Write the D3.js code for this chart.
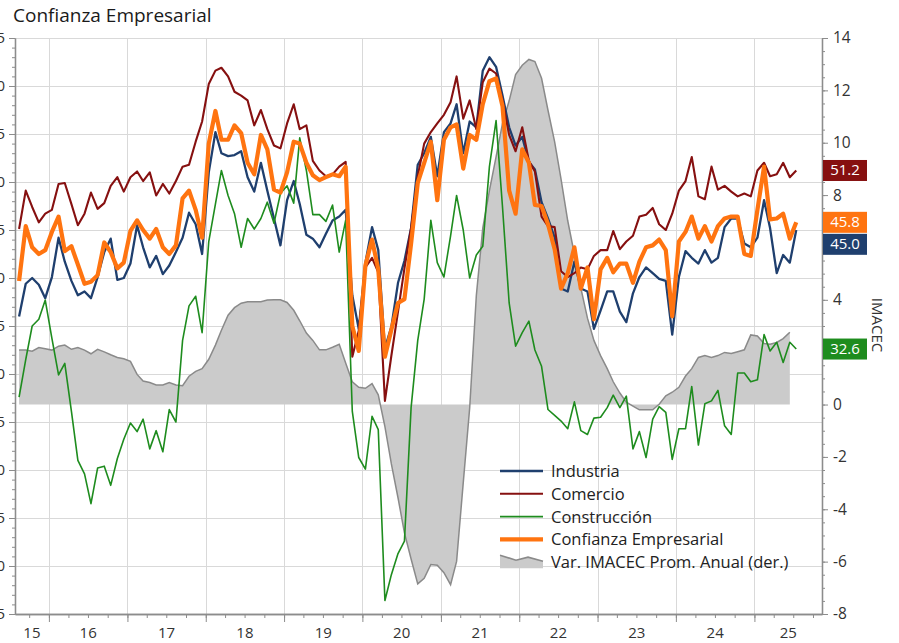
<!DOCTYPE html>
<html>
<head>
<meta charset="utf-8">
<script src="https://cdn.jsdelivr.net/npm/d3@7"></script>
<style>
  body { margin: 0; background: #fff; }
  svg { display: block; font-family: "Open Sans", "Noto Sans", sans-serif; }
</style>
</head>
<body>
<svg id="chart" width="899" height="643"></svg>
<script>
// monthly series, Aug 2015 .. Jul 2025
const industria = [
  36.0, 39.4, 40.0, 39.3, 37.9, 40.1, 44.2, 41.7, 39.7, 38.2, 38.6, 37.9,
  40.1, 42.7, 44.1, 39.8, 40.0, 41.5, 45.5, 43.2, 41.1, 42.3, 40.4, 41.3,
  42.7, 44.2, 46.8, 45.6, 42.5, 51.0, 55.2, 53.0, 52.7, 52.8, 53.2, 50.5,
  49.0, 52.0, 49.1, 46.2, 43.4, 48.1, 50.1, 47.7, 44.5, 44.1, 43.2, 44.6,
  46.0, 46.4, 47.1, 38.2, 34.7, 41.6, 45.3, 42.9, 32.7, 34.9, 39.5, 41.8,
  45.2, 51.8, 53.0, 54.7, 50.6, 55.2, 56.1, 58.1, 53.0, 56.3, 55.7, 61.6,
  63.0, 62.0, 59.0, 55.7, 53.8, 54.7, 52.1, 51.3, 47.9, 46.2, 44.2, 38.9,
  38.6, 41.7, 38.9, 38.6, 34.7, 36.6, 38.6, 38.6, 36.5, 35.4, 38.4, 40.1,
  41.1, 40.5, 39.9, 39.7, 34.1, 40.1, 42.8, 42.1, 41.5, 42.9, 41.6, 42.1,
  45.3, 46.2, 46.2, 43.6, 43.2, 44.2, 48.1, 45.2, 40.5, 42.4, 41.6, 45.0
];
const comercio = [
  45.1, 49.1, 47.4, 45.8, 46.7, 47.1, 49.8, 49.9, 47.7, 45.5, 46.7, 48.9,
  47.2, 47.8, 49.6, 50.5, 49.0, 50.5, 51.1, 50.1, 51.0, 48.6, 49.8, 48.8,
  50.1, 51.6, 51.8, 54.2, 56.3, 60.2, 61.6, 61.9, 61.0, 59.4, 59.0, 58.5,
  55.9, 57.5, 55.5, 53.8, 53.5, 56.1, 58.1, 55.5, 55.9, 52.2, 51.2, 50.6,
  50.8, 51.6, 52.1, 31.8, 34.5, 41.1, 42.1, 40.6, 27.2, 31.9, 36.5, 41.0,
  45.2, 50.6, 54.0, 55.2, 56.1, 57.0, 58.3, 61.0, 56.6, 58.5, 55.5, 60.4,
  61.8, 61.3, 58.5, 54.9, 53.2, 55.7, 52.2, 51.1, 46.4, 45.4, 45.3, 40.7,
  40.1, 40.5, 41.1, 40.9, 42.3, 42.9, 42.9, 44.9, 43.0, 43.8, 44.4, 46.4,
  46.6, 47.3, 45.6, 45.0, 46.7, 49.1, 50.1, 52.6, 48.5, 48.2, 51.6, 49.2,
  49.6, 49.0, 48.5, 48.8, 48.5, 51.2, 52.0, 50.6, 50.8, 52.0, 50.5, 51.2
];
const construccion = [
  27.6, 31.5, 35.0, 35.7, 37.7, 33.7, 29.9, 31.1, 26.1, 21.0, 19.6, 16.5,
  20.2, 20.4, 18.4, 21.2, 23.2, 24.9, 24.0, 25.3, 22.2, 24.1, 21.9, 26.3,
  25.0, 33.5, 37.1, 38.1, 34.3, 43.8, 47.7, 51.2, 48.6, 46.7, 43.2, 46.2,
  45.1, 46.2, 47.9, 45.7, 48.8, 49.6, 47.8, 54.6, 51.2, 46.6, 46.6, 45.9,
  47.6, 42.7, 46.0, 26.1, 21.3, 20.1, 25.6, 24.2, 6.4, 9.1, 11.3, 12.6,
  26.5, 33.5, 37.8, 46.0, 41.6, 40.1, 44.4, 48.6, 45.0, 40.0, 42.4, 43.3,
  51.6, 56.4, 47.4, 37.4, 32.9, 34.3, 35.5, 32.5, 30.8, 26.3, 25.7, 25.1,
  24.3, 27.1, 24.1, 23.7, 25.4, 25.5, 26.5, 27.8, 26.5, 27.7, 22.2, 24.0,
  21.3, 25.3, 26.6, 26.0, 21.1, 24.3, 24.3, 28.7, 22.6, 26.9, 27.2, 28.3,
  24.6, 23.7, 30.1, 30.1, 29.2, 29.4, 34.1, 32.4, 33.3, 31.2, 33.3, 32.6
];
const confianza = [
  39.7, 45.4, 43.2, 42.5, 42.9, 44.8, 46.4, 42.8, 43.3, 41.4, 39.4, 39.6,
  40.3, 43.7, 42.7, 41.0, 41.6, 44.9, 46.0, 45.0, 44.1, 45.1, 43.2, 42.5,
  43.4, 48.3, 49.1, 47.1, 44.2, 54.0, 57.4, 54.4, 54.4, 55.9, 55.1, 52.0,
  50.8, 54.9, 53.4, 49.2, 48.9, 51.0, 54.2, 54.0, 52.0, 50.7, 50.2, 50.5,
  50.8, 50.6, 51.6, 35.0, 32.4, 41.3, 44.0, 40.9, 31.8, 34.6, 37.4, 37.8,
  43.6, 49.9, 52.0, 54.2, 48.1, 54.4, 55.7, 56.0, 51.4, 54.9, 54.4, 58.1,
  60.5, 60.8, 57.9, 49.1, 46.7, 53.4, 52.0, 47.6, 47.5, 45.6, 43.0, 38.9,
  40.5, 43.2, 38.9, 41.1, 35.7, 40.9, 42.1, 40.6, 41.5, 41.5, 39.5, 41.7,
  43.2, 43.4, 44.0, 42.9, 36.0, 43.8, 44.8, 46.4, 44.1, 45.4, 43.8, 45.4,
  46.2, 46.4, 46.4, 42.5, 42.3, 47.1, 51.6, 46.1, 46.2, 46.7, 44.1, 45.8
];
// Var. IMACEC prom. anual, Aug 2015 .. Jun 2025
const imacec = [
  2.08, 2.08, 2.04, 2.18, 2.13, 2.08, 2.23, 2.27, 2.11, 2.18, 2.08, 1.94,
  2.11, 2.01, 1.90, 1.80, 1.75, 1.65, 1.15, 0.90, 0.84, 0.75, 0.75, 0.84,
  0.75, 0.72, 1.08, 1.27, 1.37, 1.73, 2.27, 2.84, 3.41, 3.70, 3.87, 3.93,
  3.93, 3.93, 3.99, 4.00, 4.00, 3.90, 3.60, 3.20, 2.73, 2.45, 2.09, 2.09,
  2.19, 2.30, 1.59, 0.87, 0.66, 0.62, 0.80, 0.37, -0.84, -2.27, -3.56, -4.90,
  -5.90, -6.85, -6.64, -6.11, -6.14, -6.42, -6.88, -5.99, -2.99, -0.13, 4.16, 6.74,
  8.17, 9.46, 10.74, 11.60, 12.60, 12.96, 13.18, 13.10, 12.46, 11.24, 10.03, 8.60,
  7.02, 5.74, 4.45, 3.30, 2.45, 1.87, 1.37, 0.87, 0.44, 0.09, -0.06, -0.20,
  -0.20, -0.20, 0.01, 0.33, 0.47, 0.66, 1.09, 1.37, 1.80, 1.87, 1.80, 1.87,
  1.99, 1.95, 2.02, 2.09, 2.66, 2.62, 2.33, 2.30, 2.37, 2.52, 2.76
];

const yearLabels = ["15", "16", "17", "18", "19", "20", "21", "22", "23", "24", "25"];
const leftTicks = [5, 10, 15, 20, 25, 30, 35, 40, 45, 50, 55, 60, 65];
const rightTicks = [-8, -6, -4, -2, 0, 2, 4, 6, 8, 10, 12, 14];

const navy = "#1f3f6e";
const darkRed = "#861010";
const green = "#1e8c1e";
const orange = "#ff7410";
const areaFill = "#cbcbcb";
const areaLine = "#8a8a8a";
const gridColor = "#d9d9d9";
const axisColor = "#8c8c8c";
const textColor = "#333";

const months = d3.timeMonth
  .range(new Date(2015, 7, 1), new Date(2025, 7, 1))
  .map((d) => d3.timeDay.offset(d, 14));

const svg = d3.select("#chart");
const plotLeft = 15, plotRight = 822, plotTop = 38, plotBottom = 614;

const x = d3.scaleTime()
  .domain([new Date(2015, 6, 27), new Date(2025, 10, 12)])
  .range([plotLeft, plotRight]);
const yL = d3.scaleLinear().domain([5, 65]).range([plotBottom, plotTop]);
const yR = d3.scaleLinear().domain([-8, 14]).range([plotBottom, plotTop]);

svg.append("text")
  .attr("x", 13).attr("y", 22)
  .attr("font-size", "19px")
  .attr("fill", "#1a1a1a")
  .text("Confianza Empresarial");

// grid
const years = d3.timeYear.range(new Date(2016, 0, 1), new Date(2026, 0, 1));
svg.append("g").selectAll("line")
  .data(leftTicks)
  .join("line")
  .attr("x1", plotLeft).attr("x2", plotRight)
  .attr("y1", (d) => yL(d) + 0.5).attr("y2", (d) => yL(d) + 0.5)
  .attr("stroke", gridColor);
svg.append("g").selectAll("line")
  .data(years)
  .join("line")
  .attr("x1", (d) => Math.round(x(d)) + 0.5).attr("x2", (d) => Math.round(x(d)) + 0.5)
  .attr("y1", plotTop).attr("y2", plotBottom)
  .attr("stroke", gridColor);

// IMACEC area
const areaData = imacec.map((v, i) => ({ date: months[i], v }));
svg.append("path")
  .datum(areaData)
  .attr("fill", areaFill)
  .attr("d", d3.area().x((d) => x(d.date)).y0(yR(0)).y1((d) => yR(d.v)));
svg.append("path")
  .datum(areaData)
  .attr("fill", "none")
  .attr("stroke", areaLine)
  .attr("stroke-width", 1.5)
  .attr("d", d3.line().x((d) => x(d.date)).y((d) => yR(d.v)));

// lines
const series = [
  { name: "Industria", values: industria, color: navy, width: 2.3 },
  { name: "Comercio", values: comercio, color: darkRed, width: 2.1 },
  { name: "Construcción", values: construccion, color: green, width: 1.6 },
  { name: "Confianza Empresarial", values: confianza, color: orange, width: 4.2 },
];
const line = d3.line().x((d, i) => x(months[i])).y((d) => yL(d));
svg.append("g").selectAll("path")
  .data(series)
  .join("path")
  .attr("fill", "none")
  .attr("stroke", (s) => s.color)
  .attr("stroke-width", (s) => s.width)
  .attr("stroke-linejoin", "round")
  .attr("d", (s) => line(s.values));

// end-value boxes (pushed down when they collide)
const boxH = 21;
const boxes = series
  .map((s) => ({ v: s.values[s.values.length - 1], color: s.color, y: yL(s.values[s.values.length - 1]) - boxH / 2 }))
  .sort((a, b) => a.y - b.y);
boxes.forEach((b, i) => {
  if (i > 0 && b.y < boxes[i - 1].y + boxH + 1) b.y = boxes[i - 1].y + boxH + 1;
});
// right-axis labels that sit under a box are hidden, as in the source
const coveredTick = (t) => boxes.some((b) => yR(t) > b.y - 4 && yR(t) < b.y + boxH + 4);

// axes
function styleAxis(g) {
  g.select(".domain").attr("stroke", axisColor).attr("stroke-width", 1.3);
  g.selectAll(".tick line").attr("stroke", axisColor);
  g.selectAll("text").attr("fill", textColor).attr("font-family", "Open Sans, sans-serif");
}

svg.append("g")
  .attr("transform", `translate(${plotLeft},0)`)
  .call(d3.axisLeft(yL).tickValues(d3.range(5, 66, 1)).tickSize(3).tickFormat("").tickSizeOuter(0))
  .call(styleAxis);
svg.append("g")
  .attr("transform", `translate(${plotLeft},0)`)
  .call(d3.axisLeft(yL).tickValues(leftTicks).tickSize(6).tickPadding(4).tickSizeOuter(0))
  .call(styleAxis)
  .call((g) => g.selectAll("text").attr("font-size", "15px"));

svg.append("g")
  .attr("transform", `translate(${plotRight},0)`)
  .call(d3.axisRight(yR).tickValues(d3.range(-8, 14.01, 0.5)).tickSize(3).tickFormat("").tickSizeOuter(0))
  .call(styleAxis);
svg.append("g")
  .attr("transform", `translate(${plotRight},0)`)
  .call(d3.axisRight(yR).tickValues(rightTicks).tickSize(6).tickPadding(5).tickSizeOuter(0)
    .tickFormat((t) => (coveredTick(t) ? "" : String(t))))
  .call(styleAxis)
  .call((g) => g.selectAll("text").attr("font-size", "15.5px"));

svg.append("g")
  .attr("transform", `translate(0,${plotBottom})`)
  .call(d3.axisBottom(x).ticks(d3.timeMonth.every(3)).tickSize(4).tickFormat("").tickSizeOuter(0))
  .call(styleAxis);
svg.append("g")
  .attr("transform", `translate(0,${plotBottom})`)
  .call(d3.axisBottom(x).tickValues(years.slice(0, 10)).tickSize(8).tickFormat("").tickSizeOuter(0))
  .call(styleAxis);

const [d0, d1] = x.domain();
svg.append("g").selectAll("text")
  .data(yearLabels)
  .join("text")
  .attr("x", (t, i) => {
    const a = new Date(2015 + i, 0, 1), b = new Date(2016 + i, 0, 1);
    return (x(a < d0 ? d0 : a) + x(b > d1 ? d1 : b)) / 2;
  })
  .attr("y", 638)
  .attr("text-anchor", "middle")
  .attr("font-size", "15px")
  .attr("fill", textColor)
  .text((t) => t);

svg.append("text")
  .attr("transform", "translate(872,325) rotate(90)")
  .attr("text-anchor", "middle")
  .attr("font-size", "15px")
  .attr("fill", textColor)
  .text("IMACEC");

const bx = svg.append("g").selectAll("g").data(boxes).join("g")
  .attr("transform", (b) => `translate(${plotRight + 1},${b.y})`);
bx.append("rect").attr("width", 44).attr("height", boxH).attr("fill", (b) => b.color);
bx.append("text")
  .attr("x", 22).attr("y", 15.5)
  .attr("text-anchor", "middle")
  .attr("font-size", "15px")
  .attr("fill", "#fff")
  .text((b) => d3.format(".1f")(b.v));

// legend
const legend = svg.append("g").attr("transform", "translate(500,471)");
const rowH = 22.8;
const items = legend.selectAll("g").data(series).join("g")
  .attr("transform", (s, i) => `translate(0,${i * rowH})`);
items.append("line")
  .attr("x1", 0).attr("x2", 43)
  .attr("stroke", (s) => s.color)
  .attr("stroke-width", (s) => s.width);
items.append("text")
  .attr("x", 51).attr("y", 6)
  .attr("font-size", "16.5px")
  .attr("fill", "#222")
  .text((s) => s.name);
const last = legend.append("g").attr("transform", `translate(0,${4 * rowH})`);
last.append("path")
  .attr("d", "M0,-7 L16,-2 L28,-5 L43,-1 L43,6 L0,6 Z")
  .attr("fill", areaFill);
last.append("path")
  .attr("d", "M0,-7 L16,-2 L28,-5 L43,-1")
  .attr("fill", "none").attr("stroke", areaLine).attr("stroke-width", 1.6);
last.append("text")
  .attr("x", 51).attr("y", 6)
  .attr("font-size", "16.5px")
  .attr("fill", "#222")
  .text("Var. IMACEC Prom. Anual (der.)");
</script>
</body>
</html>
